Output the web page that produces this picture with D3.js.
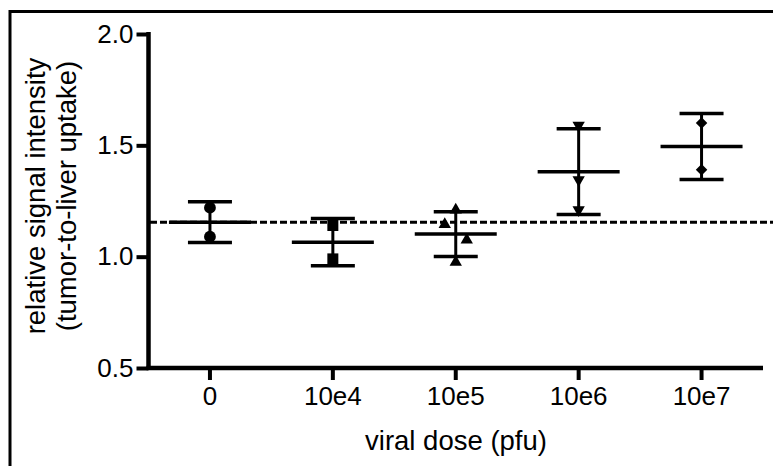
<!DOCTYPE html>
<html>
<head>
<meta charset="utf-8">
<script src="https://cdn.jsdelivr.net/npm/d3@7"></script>
<style>
  html, body { margin: 0; padding: 0; background: #fff; }
  svg { display: block; font-family: "Liberation Sans", Arial, sans-serif; }
</style>
</head>
<body>
<svg id="chart" width="773" height="466"></svg>
<script>
// Dose groups and the replicate measurements in each group
const doses = ["0", "10e4", "10e5", "10e6", "10e7"];
const dose0 = [1.22, 1.09];
const dose1e4 = [1.14, 0.99];
const dose1e5 = [1.21, 1.145, 1.075, 0.975];
const dose1e6 = [1.59, 1.345, 1.21];
const dose1e7 = [1.60, 1.39];
const yTicks = [0.5, 1.0, 1.5, 2.0];

const groups = [dose0, dose1e4, dose1e5, dose1e6, dose1e7];
const markers = ["circle", "square", "triangleUp", "triangleDown", "diamond"];

const svg = d3.select("#chart");
const W = 773, H = 466;

// outer frame (runs off the right and bottom edges)
svg.append("rect")
  .attr("x", 10).attr("y", 11.5)
  .attr("width", 820).attr("height", 520)
  .attr("fill", "none").attr("stroke", "#000").attr("stroke-width", 3);

const x = d3.scaleBand().domain(doses).range([148.5, 763]).padding(0);
const y = d3.scaleLinear().domain([0.5, 2.0]).range([368, 34]);
const cx = d => x(d) + x.bandwidth() / 2;

// axes
const yAxis = svg.append("g")
  .attr("transform", "translate(148.5,0)")
  .call(d3.axisLeft(y).tickValues(yTicks).tickFormat(d3.format(".1f"))
    .tickSize(12).tickSizeOuter(0).tickPadding(3));
const xAxis = svg.append("g")
  .attr("transform", "translate(0,368)")
  .call(d3.axisBottom(x).tickSize(12).tickSizeOuter(0).tickPadding(7));

[yAxis, xAxis].forEach(g => {
  g.select(".domain").attr("stroke", "#000").attr("stroke-width", 4.5);
  g.selectAll(".tick line").attr("stroke", "#000").attr("stroke-width", 4);
  g.selectAll(".tick text").attr("fill", "#000")
    .style("font-size", "26px").style("font-family", "'Liberation Sans', Arial, sans-serif");
});
yAxis.select(".domain").attr("d", `M0,${y(0.5) + 2}V${y(2.0) - 2}`);
xAxis.select(".domain").attr("d", `M${148.5 - 2},0H763`);

// axis titles
svg.append("text")
  .attr("x", 456).attr("y", 450)
  .attr("text-anchor", "middle")
  .style("font-size", "27.5px")
  .text("viral dose (pfu)");

const yTitle = svg.append("text")
  .attr("transform", "translate(45,196) rotate(-90)")
  .attr("text-anchor", "middle")
  .style("font-size", "27.5px");
yTitle.append("tspan").attr("x", 0).attr("y", 0).text("relative signal intensity");
yTitle.append("tspan").attr("x", 0).attr("y", 31).text("(tumor-to-liver uptake)");

// reference level: mean of the untreated group
const controlMean = d3.mean(dose0);
svg.append("line")
  .attr("x1", 150).attr("x2", W)
  .attr("y1", y(controlMean)).attr("y2", y(controlMean))
  .attr("stroke", "#000").attr("stroke-width", 3)
  .attr("stroke-dasharray", "7,3");

// marker shapes
const symbolFor = {
  circle: d3.symbol().type(d3.symbolCircle).size(110)(),
  square: d3.symbol().type(d3.symbolSquare).size(121)(),
  triangleUp: d3.symbol().type(d3.symbolTriangle).size(66)(),
  triangleDown: d3.symbol().type(d3.symbolTriangle).size(66)(),
  diamond: d3.symbol().type(d3.symbolSquare).size(66)()
};
const rotateFor = { circle: 0, square: 0, triangleUp: 0, triangleDown: 180, diamond: 45 };

// horizontal spread of points that share a column (in marker widths)
const spread = { "10e5": [0, -1, 1, 0] };
const markerW = 11;

const capHalf = 22, meanHalf = 41;

groups.forEach((vals, i) => {
  const dose = doses[i];
  const m = d3.mean(vals);
  const sd = d3.deviation(vals);
  const c = cx(dose);
  const g = svg.append("g");

  // mean ± SD
  g.append("line").attr("x1", c).attr("x2", c)
    .attr("y1", y(m + sd)).attr("y2", y(m - sd))
    .attr("stroke", "#000").attr("stroke-width", 3);
  [m + sd, m - sd].forEach(v => {
    g.append("line").attr("x1", c - capHalf).attr("x2", c + capHalf)
      .attr("y1", y(v)).attr("y2", y(v))
      .attr("stroke", "#000").attr("stroke-width", 3.5);
  });
  g.append("line").attr("x1", c - meanHalf).attr("x2", c + meanHalf)
    .attr("y1", y(m)).attr("y2", y(m))
    .attr("stroke", "#000").attr("stroke-width", 3.5);

  // replicate points
  const sh = spread[dose] || vals.map(() => 0);
  vals.forEach((v, j) => {
    g.append("path")
      .attr("d", symbolFor[markers[i]])
      .attr("transform", `translate(${c + sh[j] * markerW},${y(v)}) rotate(${rotateFor[markers[i]]})`)
      .attr("fill", "#000");
  });
});
</script>
</body>
</html>
